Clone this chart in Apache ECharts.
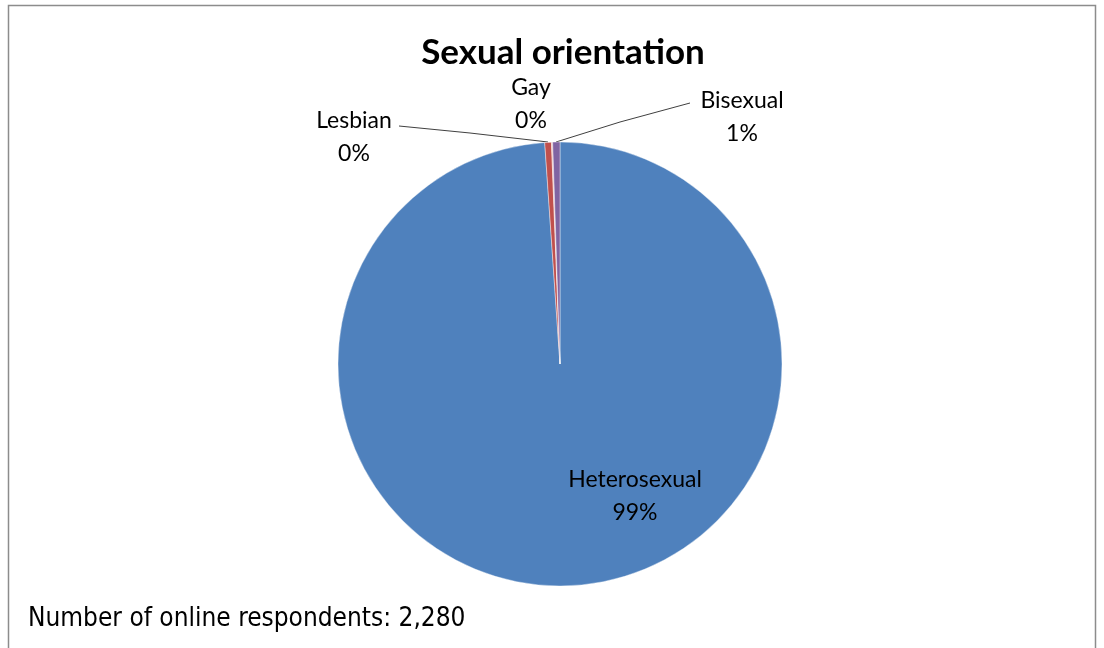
<!DOCTYPE html>
<html>
<head>
<meta charset="utf-8">
<style>
  html, body { margin: 0; padding: 0; background: #ffffff; }
  #chart { width: 1104px; height: 648px; }
</style>
<script src="https://cdn.jsdelivr.net/npm/echarts@6/dist/echarts.min.js"></script>
</head>
<body>
<div id="chart"></div>
<script>
// Survey answers: sexual orientation of online respondents
const categories = ['Heterosexual', 'Lesbian', 'Gay', 'Bisexual'];
const counts = [2255, 11, 2, 12];
const sliceColors = ['#4F81BD', '#C0504D', '#E6B9B8', '#8064A2'];
const titleText = 'Sexual orientation';
const noteText = 'Number of online respondents: 2,280';

const total = counts.reduce((a, b) => a + b, 0);

// Fixed label anchors (Excel-style callouts) and leader-line ends
const labelSpots = [
  { x: 635, y: 496, line: null },
  { x: 354, y: 137, line: [[399, 126], [470, 133], [548, 142]] },
  { x: 531, y: 104, line: null },
  { x: 742, y: 117, line: [[690, 103], [620, 122], [556, 142]] }
];

const chart = echarts.init(document.getElementById('chart'), null, { renderer: 'canvas' });

chart.setOption({
  animation: false,
  backgroundColor: '#ffffff',
  title: {
    text: titleText,
    left: 558,
    textAlign: 'center',
    top: 30,
    textStyle: {
      fontFamily: 'Lato',
      fontWeight: 'bold',
      fontSize: 35,
      color: '#000000'
    }
  },
  graphic: [
    {
      type: 'rect',
      shape: { x: 8.5, y: 5.5, width: 1087, height: 660 },
      style: { fill: 'none', stroke: '#8c8c8c', lineWidth: 1.5 },
      silent: true
    },
    {
      type: 'text',
      left: 28,
      top: 606,
      style: {
        text: noteText,
        fontFamily: 'DejaVu Sans Condensed',
        fontSize: 26,
        fill: '#000000'
      }
    }
  ],
  series: [
    {
      type: 'pie',
      center: [560, 364],
      radius: 222,
      startAngle: 90,
      clockwise: true,
      color: sliceColors,
      itemStyle: { borderColor: '#ffffff', borderWidth: 0.4 },
      label: {
        show: true,
        position: 'outside',
        fontFamily: 'Lato',
        fontSize: 23,
        lineHeight: 33,
        color: '#000000',
        align: 'center',
        formatter: p => p.name + '\n' + Math.round(p.value / total * 100) + '%'
      },
      labelLine: {
        show: true,
        lineStyle: { color: '#404040', width: 1 }
      },
      labelLayout: function (params) {
        const spot = labelSpots[params.dataIndex];
        const out = {
          x: spot.x,
          y: spot.y,
          align: 'center',
          verticalAlign: 'middle',
          hideOverlap: false,
          moveOverlap: null
        };
        if (spot.line) {
          out.labelLinePoints = spot.line;
        }
        return out;
      },
      data: categories.map((name, i) => ({
        name: name,
        value: counts[i],
        labelLine: { show: labelSpots[i].line !== null }
      }))
    }
  ]
});
</script>
</body>
</html>
